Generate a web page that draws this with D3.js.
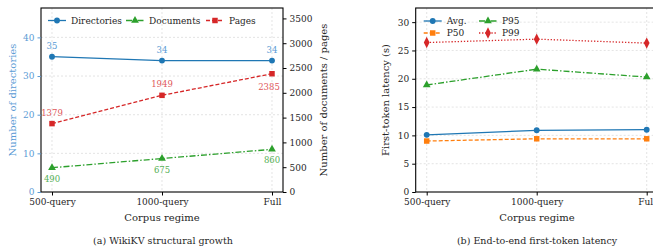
<!DOCTYPE html>
<html>
<head>
<meta charset="utf-8">
<script src="https://cdn.jsdelivr.net/npm/d3@7"></script>
<style>
  body { margin: 0; background: #fff; }
  svg, svg text { font-family: "DejaVu Serif", serif; }
  .grid line { stroke: #d9d9d9; stroke-dasharray: 2,2; stroke-width: 0.7; }
  .axis path, .axis line { stroke: #000; }
  .axis text { font-size: 9px; fill: #262626; }
</style>
</head>
<body>
<svg width="653" height="249"></svg>
<script>
const regimes = ["500-query", "1000-query", "Full"];

// panel (a)
const directories = [35, 34, 34];
const documents = [490, 675, 860];
const pages = [1379, 1949, 2385];
const dirTicks = [0, 10, 20, 30, 40];
const countTicks = [0, 500, 1000, 1500, 2000, 2500, 3000, 3500];

// panel (b)
const latAvg = [10.1, 10.9, 11.0];
const latP50 = [9.0, 9.4, 9.4];
const latP95 = [18.9, 21.7, 20.3];
const latP99 = [26.4, 27.0, 26.3];
const latTicks = [0, 5, 10, 15, 20, 25, 30];

const svg = d3.select("svg");
const blue = "#1f77b4", green = "#2ca02c", red = "#d62728", orange = "#ff7f0e";

function marker(g, shape, x, y, color) {
  const sym = {circle: d3.symbolCircle, triangle: d3.symbolTriangle, square: d3.symbolSquare, diamond: d3.symbolDiamond}[shape];
  const size = {circle: 27, triangle: 26, square: 30, diamond: 26}[shape];
  g.append("path")
    .attr("d", d3.symbol().type(sym).size(size)())
    .attr("transform", `translate(${x},${y})` + (shape === "diamond" ? " scale(1.05,1.2)" : ""))
    .attr("fill", color);
}

function series(g, x, y, vals, color, dash, shape) {
  const line = d3.line().x((d, i) => x(i)).y(d => y(d));
  g.append("path").datum(vals)
    .attr("d", line).attr("fill", "none")
    .attr("stroke", color).attr("stroke-width", 1.3)
    .attr("stroke-dasharray", dash);
  vals.forEach((v, i) => marker(g, shape, x(i), y(v), color));
}

function legendItem(g, lx, ly, color, dash, shape, label) {
  g.append("line").attr("x1", lx - 9).attr("x2", lx + 9).attr("y1", ly).attr("y2", ly)
    .attr("stroke", color).attr("stroke-width", 1.3).attr("stroke-dasharray", dash);
  marker(g, shape, lx, ly, color);
  g.append("text").attr("x", lx + 14).attr("y", ly).attr("dy", "0.35em")
    .style("font-size", "9px").attr("fill", "#262626").text(label);
}

function cleanAxis(a) {
  a.attr("font-family", null).attr("font-size", null);
  a.select(".domain").remove();
  return a;
}

// ---------- panel (a) ----------
{
  const left = 41, right = 283, top = 8, bottom = 192;
  const x = d3.scaleLinear().domain([-0.1, 2.1]).range([left, right]);
  const yL = d3.scaleLinear().domain([0, 47.6]).range([bottom, top]);
  const yR = d3.scaleLinear().domain([0, 3710]).range([bottom, top]);
  const g = svg.append("g");

  const grid = g.append("g").attr("class", "grid");
  grid.selectAll("line.h").data(dirTicks.slice(1)).join("line").attr("class", "h")
    .attr("x1", left).attr("x2", right).attr("y1", d => yL(d)).attr("y2", d => yL(d));
  grid.selectAll("line.v").data([0, 1, 2]).join("line").attr("class", "v")
    .attr("x1", d => x(d)).attr("x2", d => x(d)).attr("y1", top).attr("y2", bottom);

  series(g, x, yR, pages, red, "4,2", "square");
  series(g, x, yR, documents, green, "6,2,1.5,2", "triangle");
  series(g, x, yL, directories, blue, null, "circle");

  const lbl = (vals, y, color, dys, dxs) => vals.forEach((v, i) =>
    g.append("text").attr("x", x(i) + dxs[i]).attr("y", y(v) + dys[i])
      .attr("text-anchor", "middle").style("font-size", "8.5px").attr("fill", color).text(v));
  lbl(directories, yL, "#5b9bd5", [-8, -8, -8], [0, 0, 0]);
  lbl(pages, yR, "#e0575a", [-8, -8, 16], [0, 0, -3]);
  lbl(documents, yR, "#55b055", [14, 14, 14], [0, 0, 0]);

  g.append("rect").attr("x", left).attr("y", top).attr("width", right - left).attr("height", bottom - top)
    .attr("fill", "none").attr("stroke", "#000").attr("stroke-width", 1.1);

  cleanAxis(g.append("g").attr("class", "axis").attr("transform", `translate(0,${bottom})`)
    .call(d3.axisBottom(x).tickValues([0, 1, 2]).tickFormat(i => regimes[i]).tickSize(3.5).tickPadding(3)));
  const al = cleanAxis(g.append("g").attr("class", "axis").attr("transform", `translate(${left},0)`)
    .call(d3.axisLeft(yL).tickValues(dirTicks).tickSize(3.5).tickPadding(3)));
  al.selectAll("text").style("fill", "#5b9bd5");
  al.selectAll("line").style("stroke", "#5b9bd5");
  cleanAxis(g.append("g").attr("class", "axis").attr("transform", `translate(${right},0)`)
    .call(d3.axisRight(yR).tickValues(countTicks).tickFormat(d3.format("d")).tickSize(3.5).tickPadding(3)));

  g.append("text").attr("transform", `translate(12,${(top + bottom) / 2}) rotate(-90)`)
    .attr("text-anchor", "middle").attr("dy", "0.35em").style("font-size", "10px").attr("fill", "#5b9bd5")
    .text("Number of directories");
  g.append("text").attr("transform", `translate(323,${(top + bottom) / 2}) rotate(-90)`)
    .attr("text-anchor", "middle").attr("dy", "0.35em").style("font-size", "10px").attr("fill", "#262626")
    .text("Number of documents / pages");
  g.append("text").attr("x", (left + right) / 2).attr("y", 221).attr("text-anchor", "middle")
    .style("font-size", "10px").attr("fill", "#262626").text("Corpus regime");
  g.append("text").attr("x", 163).attr("y", 244).attr("text-anchor", "middle")
    .style("font-size", "9.5px").attr("fill", "#262626").text("(a) WikiKV structural growth");

  legendItem(g, 57, 20.5, blue, null, "circle", "Directories");
  legendItem(g, 135, 20.5, green, "6,2,1.5,2", "triangle", "Documents");
  legendItem(g, 215, 20.5, red, "4,2", "square", "Pages");
}

// ---------- panel (b) ----------
{
  const left = 415.7, right = 657.7, top = 8, bottom = 192;
  const x = d3.scaleLinear().domain([-0.1, 2.1]).range([left, right]);
  const y = d3.scaleLinear().domain([0, 32.5]).range([bottom, top]);
  const g = svg.append("g");

  const grid = g.append("g").attr("class", "grid");
  grid.selectAll("line.h").data(latTicks.slice(1)).join("line").attr("class", "h")
    .attr("x1", left).attr("x2", right).attr("y1", d => y(d)).attr("y2", d => y(d));
  grid.selectAll("line.v").data([0, 1, 2]).join("line").attr("class", "v")
    .attr("x1", d => x(d)).attr("x2", d => x(d)).attr("y1", top).attr("y2", bottom);

  series(g, x, y, latP99, red, "1.3,1.8", "diamond");
  series(g, x, y, latP95, green, "6,2,1.5,2", "triangle");
  series(g, x, y, latP50, orange, "4,2", "square");
  series(g, x, y, latAvg, blue, null, "circle");

  g.append("rect").attr("x", left).attr("y", top).attr("width", right - left).attr("height", bottom - top)
    .attr("fill", "none").attr("stroke", "#000").attr("stroke-width", 1.1);

  cleanAxis(g.append("g").attr("class", "axis").attr("transform", `translate(0,${bottom})`)
    .call(d3.axisBottom(x).tickValues([0, 1, 2]).tickFormat(i => regimes[i]).tickSize(3.5).tickPadding(3)));
  cleanAxis(g.append("g").attr("class", "axis").attr("transform", `translate(${left},0)`)
    .call(d3.axisLeft(y).tickValues(latTicks).tickSize(3.5).tickPadding(3)));

  g.append("text").attr("transform", `translate(385,${(top + bottom) / 2}) rotate(-90)`)
    .attr("text-anchor", "middle").attr("dy", "0.35em").style("font-size", "10px").attr("fill", "#262626")
    .text("First-token latency (s)");
  g.append("text").attr("x", 537).attr("y", 221).attr("text-anchor", "middle")
    .style("font-size", "10px").attr("fill", "#262626").text("Corpus regime");
  g.append("text").attr("x", 537).attr("y", 244).attr("text-anchor", "middle")
    .style("font-size", "9.5px").attr("fill", "#262626").text("(b) End-to-end first-token latency");

  legendItem(g, 432.7, 21, blue, null, "circle", "Avg.");
  legendItem(g, 488, 21, green, "6,2,1.5,2", "triangle", "P95");
  legendItem(g, 432.7, 33, orange, "4,2", "square", "P50");
  legendItem(g, 488, 33, red, "1.3,1.8", "diamond", "P99");
}
</script>
</body>
</html>
